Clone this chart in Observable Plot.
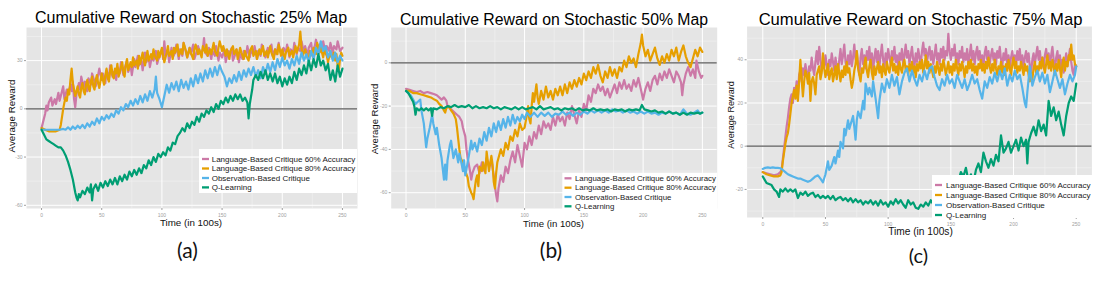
<!DOCTYPE html>
<html><head><meta charset="utf-8">
<script src="https://cdn.jsdelivr.net/npm/d3@7"></script>
<script src="https://cdn.jsdelivr.net/npm/@observablehq/plot@0.6"></script>
<style>
body{margin:0;background:#fff;}
#root{position:relative;width:1102px;height:284px;overflow:hidden;background:#fff;}
#root svg{position:absolute;}
</style></head>
<body><div id="root"></div>
<script>
// ---------- shared ----------
const seriesNames = ["Language-Based Critique 60% Accuracy","Language-Based Critique 80% Accuracy","Observation-Based Critique","Q-Learning"];
const seriesColors = ["#CC79A7","#E69F00","#56B4E9","#009E73"];
const xTicks = [0,50,100,150,200,250];
const xMinor = [25,75,125,175,225];
const titles = ["Cumulative Reward on Stochastic 25% Map","Cumulative Reward on Stochastic 50% Map","Cumulative Reward on Stochastic 75% Map"];
const captions = ["(a)","(b)","(c)"];
const yLabel = "Average Reward";
const xLabel = "Time (in 100s)";
const yTicksA = [-60,-30,0,30];
const yMinorA = [-45,-15,15,45];
const yTicksB = [-60,-40,-20,0];
const yMinorB = [-50,-30,-10,10];
const yTicksC = [-20,0,20,40];
const yMinorC = [-30,-10,10,30,50];

// ---------- panel (a): 25% ----------
const a_lang60 = [[0,-12],[2,-6],[3,-3],[4,2],[5,-1],[6,4],[8,7],[9,2],[11,6],[12,3],[14,10],[15,5],[16,8],[18,14],[19,6],[21,12],[22,9],[24,15],[25,11],[26,17],[27,6],[28,1],[29,9],[31,16],[32,12],[33,20],[35,13],[36,17],[38,11],[39,19],[41,15],[42,22],[44,17],[45,14],[47,21],[48,25],[50,18],[51,22],[53,16],[54,24],[56,19],[57,27],[59,20],[60,23],[62,18],[63,26],[65,22],[66,29],[68,21],[69,25],[71,30],[72,23],[74,27],[75,21],[77,31],[78,26],[80,33],[81,27],[83,30],[84,24],[86,35],[87,29],[89,32],[90,26],[92,34],[93,30],[95,36],[96,28],[98,33],[100,37],[101,31],[102,42],[103,33],[105,36],[106,29],[108,38],[109,32],[111,35],[112,40],[114,31],[115,37],[117,33],[118,41],[120,35],[121,32],[123,38],[124,34],[126,40],[127,31],[129,36],[130,39],[132,34],[134,37],[135,44],[136,35],[138,33],[139,38],[141,31],[142,36],[144,33],[145,39],[147,30],[148,35],[150,32],[152,37],[153,29],[155,36],[156,33],[158,38],[159,30],[161,34],[162,37],[164,29],[165,34],[167,31],[168,36],[170,33],[171,39],[173,32],[174,36],[176,34],[177,39],[179,31],[180,36],[182,33],[183,40],[185,35],[186,32],[188,38],[189,35],[191,40],[192,33],[194,37],[195,34],[197,41],[198,36],[200,33],[201,38],[203,35],[204,40],[206,32],[207,37],[209,35],[210,41],[212,34],[213,38],[215,36],[216,42],[218,35],[219,39],[221,33],[222,38],[224,41],[225,35],[227,39],[228,43],[230,36],[231,40],[233,38],[234,42],[236,34],[237,39],[239,36],[240,41],[242,35],[243,39],[245,37],[246,42],[248,36],[250,38]];
const a_lang80 = [[0,-12],[3,-13],[6,-14],[9,-14],[12,-14],[15,-13],[16,-10],[17,-5],[18,0],[19,4],[20,7],[21,5],[22,12],[23,9],[24,18],[25,25],[26,16],[27,12],[28,8],[29,11],[30,14],[31,9],[32,7],[33,13],[34,16],[35,11],[36,9],[37,15],[38,18],[39,13],[40,11],[41,17],[42,20],[43,14],[44,12],[45,18],[46,21],[47,16],[48,13],[50,22],[51,18],[52,15],[53,21],[54,25],[55,19],[56,17],[57,24],[58,27],[59,21],[60,19],[61,25],[62,22],[63,28],[64,20],[66,26],[67,29],[68,23],[69,20],[70,27],[71,31],[72,24],[74,29],[75,26],[76,32],[77,27],[79,30],[80,25],[81,33],[82,28],[84,35],[85,30],[86,27],[87,32],[88,36],[89,30],[91,34],[92,31],[93,37],[94,33],[96,30],[97,36],[98,32],[100,38],[101,33],[102,29],[104,35],[105,39],[106,33],[108,36],[109,31],[110,38],[111,35],[113,40],[114,33],[116,37],[117,34],[118,41],[120,36],[121,32],[123,38],[124,35],[126,31],[127,37],[128,40],[130,34],[131,37],[133,32],[134,39],[136,35],[137,40],[138,33],[140,37],[141,34],[143,41],[144,36],[146,33],[147,38],[148,42],[150,36],[151,39],[153,33],[154,37],[156,31],[157,36],[159,39],[160,34],[162,37],[163,31],[165,38],[166,35],[168,31],[169,36],[170,33],[172,30],[173,36],[175,39],[176,33],[178,36],[179,31],[181,37],[182,34],[184,39],[185,33],[187,36],[188,32],[190,39],[191,35],[193,31],[194,37],[196,34],[197,40],[199,33],[200,37],[202,31],[203,35],[205,38],[206,33],[208,36],[209,32],[211,39],[212,35],[214,40],[215,48],[216,38],[217,33],[219,37],[220,34],[222,30],[223,36],[225,33],[226,38],[228,34],[229,41],[231,35],[232,38],[234,32],[235,37],[237,33],[238,29],[240,36],[241,32],[243,35],[244,30],[245,34],[246,27],[247,24],[248,31],[249,35],[250,33]];
const a_obs = [[0,-13],[3,-13],[6,-13],[9,-13],[12,-13],[15,-13],[18,-12.5],[20,-13],[22,-11.5],[24,-13],[26,-11],[28,-12.5],[30,-10.5],[32,-12],[34,-10],[36,-12],[38,-9],[40,-11],[42,-8],[44,-10],[46,-6],[48,-9],[50,-5],[52,-7],[54,-4],[56,-6],[58,-3],[60,-5],[62,-1],[64,-3],[66,1],[68,-1],[70,3],[72,1],[74,5],[76,2],[78,6],[80,3],[82,8],[84,4],[86,9],[88,5],[90,11],[92,7],[94,12],[95,20],[96,10],[98,6],[100,1],[102,8],[104,15],[106,10],[108,16],[110,12],[112,17],[114,11],[116,18],[118,13],[120,17],[122,12],[124,19],[126,14],[128,21],[130,16],[132,22],[134,17],[136,24],[138,19],[140,25],[142,20],[144,26],[146,21],[148,27],[150,23],[152,20],[154,14],[156,19],[158,16],[160,21],[162,17],[164,23],[166,18],[168,24],[170,20],[172,25],[174,21],[176,26],[178,20],[180,24],[182,19],[184,26],[186,22],[188,28],[190,23],[192,29],[194,24],[196,31],[198,26],[200,32],[202,27],[204,30],[206,25],[208,31],[210,27],[212,33],[214,28],[216,35],[218,30],[220,34],[222,29],[224,36],[226,31],[228,38],[230,34],[232,42],[234,36],[236,39],[238,32],[240,36],[242,30],[244,35],[246,29],[248,33],[250,30]];
const a_q = [[0,-13],[2,-16],[4,-19],[6,-20],[8,-21],[10,-22],[12,-23],[14,-24],[16,-24],[18,-26],[20,-29],[22,-33],[24,-38],[26,-44],[27,-48],[28,-52],[29,-55],[30,-57],[31,-53],[32,-55],[34,-51],[36,-53],[38,-49],[40,-52],[41,-47],[42,-57],[43,-50],[45,-47],[47,-51],[49,-46],[51,-49],[53,-45],[55,-48],[57,-44],[59,-47],[61,-43],[63,-47],[65,-42],[67,-45],[69,-41],[71,-44],[73,-39],[75,-42],[77,-38],[79,-41],[81,-37],[83,-40],[85,-35],[87,-37],[89,-32],[91,-35],[93,-30],[95,-33],[97,-28],[99,-30],[101,-27],[103,-29],[105,-24],[107,-26],[109,-21],[111,-22],[113,-17],[115,-15],[117,-12],[119,-14],[121,-9],[123,-12],[125,-8],[127,-10],[129,-5],[131,-8],[133,-3],[135,-5],[137,-1],[139,-3],[141,1],[143,-2],[145,3],[147,0],[149,5],[151,3],[153,7],[155,4],[157,8],[159,5],[161,9],[163,6],[165,9],[167,5],[169,7],[171,4],[172,-6],[173,3],[175,12],[176,18],[178,21],[180,18],[182,23],[184,19],[186,24],[188,18],[190,22],[192,17],[194,22],[196,16],[198,20],[200,14],[202,19],[204,15],[206,20],[208,16],[210,23],[212,18],[214,25],[216,21],[218,27],[220,22],[222,30],[224,24],[226,31],[228,26],[230,34],[232,27],[234,30],[236,24],[238,28],[240,18],[242,24],[244,17],[246,27],[248,20],[250,25]];

// ---------- panel (b): 50% ----------
const b_lang60 = [[0,-12],[3,-12.5],[6,-13],[9,-13.5],[12,-13],[15,-14],[18,-13.5],[21,-14],[24,-14.5],[26,-15],[28,-16],[30,-17],[32,-16],[34,-17.5],[35,-20],[37,-21],[39,-22],[41,-23],[43,-24],[45,-25],[47,-27],[48,-30],[50,-34],[51,-40],[52,-44],[54,-50],[55,-54],[56,-51],[58,-48],[60,-47],[62,-51],[64,-46],[66,-50],[68,-44],[70,-48],[72,-45],[74,-52],[75,-57],[76,-61],[77,-64],[78,-58],[80,-52],[82,-55],[84,-48],[86,-51],[88,-45],[90,-41],[92,-46],[94,-38],[96,-43],[98,-48],[100,-37],[102,-40],[104,-34],[106,-38],[108,-32],[110,-35],[112,-29],[114,-33],[116,-27],[118,-30],[120,-28],[122,-31],[124,-25],[126,-29],[128,-24],[130,-27],[132,-25],[134,-29],[136,-23],[138,-26],[140,-20],[142,-24],[144,-28],[146,-22],[148,-25],[150,-19],[152,-22],[154,-15],[156,-18],[158,-12],[160,-14],[162,-10],[164,-13],[166,-11],[168,-15],[170,-12],[172,-16],[174,-13],[176,-10],[178,-14],[180,-9],[182,-12],[184,-8],[186,-12],[188,-10],[190,-13],[192,-8],[194,-11],[196,-7],[198,-12],[200,-17],[202,-12],[204,-9],[206,-13],[208,-8],[210,-6],[212,-10],[214,-5],[216,-8],[218,-4],[220,-7],[222,-3],[224,-6],[226,-9],[228,-4],[230,-6],[232,-9],[233,-15],[234,-10],[236,-5],[238,-2],[240,-6],[242,-3],[244,-7],[245,1],[247,-4],[249,-7],[250,-6]];
const b_lang80 = [[0,-13],[3,-13],[6,-14],[9,-14],[12,-14.5],[15,-15],[18,-15.5],[21,-16],[24,-17],[26,-17.5],[28,-19],[30,-20],[32,-22],[33,-23],[34,-21],[36,-20],[38,-22],[40,-23.5],[42,-26],[43,-30],[44,-35],[45,-40],[46,-44],[48,-46],[50,-50],[52,-53],[53,-57],[55,-60],[56,-61],[57,-63],[58,-58],[59,-54],[60,-52],[61,-57],[62,-48],[64,-50],[65,-46],[67,-51],[68,-41],[70,-50],[72,-43],[73,-47],[74,-55],[75,-58],[76,-51],[77,-46],[78,-44],[80,-40],[82,-43],[84,-37],[86,-40],[88,-34],[90,-36],[92,-31],[94,-34],[96,-28],[98,-31],[100,-30],[102,-24],[103,-20],[104,-26],[105,-28],[106,-20],[107,-14],[108,-18],[110,-10],[111,-16],[112,-19],[114,-13],[116,-17],[118,-11],[120,-16],[122,-13],[124,-17],[126,-12],[128,-15],[130,-11],[132,-15],[134,-10],[136,-14],[138,-9],[140,-12],[142,-8],[144,-11],[146,-7],[148,-10],[150,-5],[152,-8],[154,-4],[156,-7],[158,-2],[160,-5],[162,-1],[164,-6],[166,-9],[168,-4],[170,-7],[172,-2],[174,-6],[176,-3],[178,-7],[180,-2],[182,-4],[184,1],[186,-2],[188,3],[190,0],[192,2],[194,-2],[196,4],[198,9],[199,13],[200,8],[202,3],[204,6],[206,1],[208,4],[210,7],[212,2],[214,-1],[216,3],[218,0],[220,4],[222,1],[224,6],[226,3],[228,7],[230,1],[232,5],[234,8],[236,3],[238,0],[240,-2],[242,2],[244,6],[246,3],[248,7],[250,5]];
const b_obs = [[0,-13],[2,-14],[4,-15],[6,-17],[8,-19],[10,-18],[12,-17],[13,-22],[15,-28],[17,-39],[18,-35],[20,-30],[22,-24],[23,-28],[25,-33],[26,-30],[28,-38],[30,-44],[31,-49],[32,-54],[33,-47],[34,-54],[35,-45],[37,-38],[38,-36],[40,-44],[42,-40],[44,-46],[45,-42],[47,-47],[48,-50],[49,-45],[50,-52],[52,-46],[53,-43],[55,-36],[56,-40],[58,-37],[60,-41],[62,-35],[64,-38],[66,-32],[68,-36],[70,-30],[72,-34],[74,-28],[76,-32],[78,-27],[80,-31],[82,-26],[84,-30],[86,-25],[88,-29],[90,-24],[92,-28],[94,-25],[96,-27],[98,-24],[100,-26],[102,-23],[105,-25],[108,-23],[111,-25],[114,-23],[117,-24.5],[120,-23],[123,-25],[126,-23.5],[129,-24],[132,-22.5],[135,-24],[138,-23],[141,-24.5],[144,-23],[147,-24],[150,-22.5],[153,-23.5],[156,-22],[159,-23],[162,-22],[165,-23],[168,-22],[171,-23],[174,-21.5],[177,-22.5],[180,-22],[183,-23],[186,-22],[189,-23],[192,-22.5],[195,-23.5],[198,-22.5],[201,-23.5],[204,-22.5],[207,-23.5],[210,-23],[213,-24],[216,-23],[219,-23.5],[222,-22.5],[225,-23.5],[228,-23],[231,-24],[234,-21.5],[237,-23.5],[240,-24],[243,-23],[246,-22],[248,-23.5],[250,-23]];
const b_q = [[0,-13],[2,-14],[4,-16],[6,-18],[7,-20],[8,-24],[9,-21],[11,-22],[13,-21],[15,-22],[17,-21],[19,-22],[21,-21],[22,-24.5],[23,-21],[26,-21.5],[29,-20.5],[32,-21],[35,-20],[38,-20.5],[41,-19.5],[44,-20.5],[47,-20],[50,-20.5],[53,-19.5],[56,-21],[59,-20],[62,-21],[65,-20.5],[68,-21],[71,-20],[74,-21],[77,-20.5],[80,-21.5],[83,-20.5],[86,-21],[89,-21.5],[92,-20.5],[95,-21.5],[98,-20.5],[101,-21.5],[104,-21],[107,-20.5],[110,-21.5],[113,-20],[116,-21.5],[119,-21],[122,-20.5],[125,-21.5],[128,-21],[131,-22],[134,-21],[137,-21.5],[140,-21],[143,-22],[146,-21],[149,-22],[152,-21.5],[155,-22],[158,-21],[161,-22],[164,-21.5],[167,-22],[170,-21.5],[173,-22.5],[176,-21.5],[179,-22],[182,-21.5],[185,-22.5],[188,-21.5],[191,-22],[194,-21.5],[197,-22],[199,-19.5],[201,-21.5],[204,-22],[207,-22.5],[210,-22],[213,-23],[216,-22.5],[219,-23.5],[222,-22.5],[225,-23.5],[228,-23],[231,-24],[234,-23],[237,-24],[240,-23],[243,-23.5],[246,-23],[248,-23.5],[250,-23]];

// ---------- panel (c): 75% ----------
const c_lang60 = [[0,-12],[3,-12.5],[6,-13],[9,-13.5],[12,-13],[14,-12],[15,-11],[16,-6],[17,-1],[18,4],[19,9],[20,13],[21,18],[22,22],[23,24],[24,20],[25,27],[26,24],[27,30],[28,23],[29,33],[30,35],[31,30],[32,36],[33,33],[34,38],[35,34],[36,31],[37,37],[38,35],[39,41],[40,36],[41,33],[42,39],[43,44],[44,38],[45,46],[46,40],[47,35],[48,39],[49,36],[50,42],[51,38],[52,33],[53,40],[54,37],[55,43],[56,39],[57,35],[58,41],[59,37],[60,34],[61,40],[62,45],[63,38],[64,42],[65,47],[66,39],[67,36],[68,42],[69,38],[70,44],[71,37],[72,41],[73,47],[74,40],[75,44],[76,38],[77,33],[78,41],[79,45],[80,38],[81,42],[82,36],[83,44],[84,40],[85,46],[86,38],[87,43],[88,35],[89,41],[90,45],[91,39],[92,44],[93,37],[94,42],[95,47],[96,40],[97,36],[98,43],[99,39],[100,45],[101,41],[102,38],[103,44],[104,40],[105,46],[106,39],[107,42],[108,37],[109,43],[110,40],[111,45],[112,38],[113,42],[114,47],[115,41],[116,44],[117,38],[118,42],[119,46],[120,40],[121,37],[122,43],[123,39],[124,45],[125,41],[126,38],[127,44],[128,48],[129,42],[130,45],[131,39],[132,43],[133,46],[134,40],[135,44],[136,38],[137,42],[138,47],[139,40],[140,43],[141,38],[142,45],[143,41],[144,46],[145,40],[146,44],[147,42],[148,52],[149,44],[150,40],[151,45],[152,42],[153,47],[154,40],[155,43],[156,38],[157,44],[158,41],[159,46],[160,39],[161,43],[162,40],[163,45],[164,38],[165,42],[166,47],[167,40],[168,44],[169,38],[170,43],[171,46],[172,40],[173,44],[174,39],[175,42],[176,37],[177,43],[178,46],[179,40],[180,44],[181,38],[182,42],[183,45],[184,40],[185,43],[186,38],[187,44],[188,41],[189,46],[190,40],[191,37],[192,43],[193,40],[194,45],[195,38],[196,42],[197,36],[198,41],[199,44],[200,39],[201,42],[202,37],[203,44],[204,40],[205,45],[206,38],[207,42],[208,36],[209,41],[210,44],[211,39],[212,43],[213,37],[214,34],[215,40],[216,43],[217,38],[218,42],[219,46],[220,40],[221,44],[222,38],[223,41],[224,36],[225,42],[226,45],[227,39],[228,43],[229,37],[230,42],[231,46],[232,40],[233,35],[234,41],[235,44],[236,38],[237,42],[238,36],[239,40],[240,34],[241,39],[242,43],[243,37],[244,41],[245,45],[246,39],[247,35],[248,33],[249,38],[250,37]];
const c_lang80 = [[0,-12],[3,-13],[6,-13.5],[9,-14],[12,-14],[14,-13.5],[15,-12],[16,-7],[17,-3],[18,1],[19,4],[20,6],[21,10],[22,15],[23,20],[24,23],[25,26],[26,22],[27,28],[28,21],[29,30],[30,40],[31,31],[32,23],[33,30],[34,35],[35,33],[36,29],[37,34],[38,21],[39,30],[40,32],[41,29],[42,24],[43,33],[44,35],[45,37],[46,31],[47,34],[48,43],[49,36],[50,32],[51,35],[52,38],[53,31],[54,34],[55,36],[56,30],[57,33],[58,37],[59,31],[60,38],[61,34],[62,30],[63,35],[64,32],[65,37],[66,33],[67,39],[68,34],[69,36],[70,31],[71,27],[72,30],[73,35],[74,38],[75,44],[76,36],[77,33],[78,30],[79,36],[80,34],[81,38],[82,41],[83,35],[84,32],[85,37],[86,40],[87,34],[88,31],[89,37],[90,33],[91,36],[92,39],[93,34],[94,37],[95,32],[96,38],[97,35],[98,33],[99,39],[100,36],[101,34],[102,38],[103,41],[104,35],[105,38],[106,34],[107,37],[108,33],[109,39],[110,36],[111,34],[112,38],[113,40],[114,35],[115,37],[116,33],[117,38],[118,35],[119,39],[120,34],[121,37],[122,32],[123,38],[124,35],[125,39],[126,36],[127,40],[128,34],[129,37],[130,42],[131,36],[132,39],[133,34],[134,38],[135,35],[136,32],[137,37],[138,34],[139,39],[140,36],[141,33],[142,38],[143,35],[144,40],[145,37],[146,33],[147,36],[148,39],[149,34],[150,37],[151,33],[152,38],[153,35],[154,40],[155,36],[156,33],[157,38],[158,35],[159,39],[160,36],[161,32],[162,37],[163,34],[164,39],[165,36],[166,40],[167,35],[168,38],[169,34],[170,37],[171,33],[172,38],[173,36],[174,40],[175,35],[176,38],[177,34],[178,39],[179,36],[180,41],[181,37],[182,34],[183,38],[184,35],[185,40],[186,36],[187,33],[188,37],[189,35],[190,39],[191,34],[192,37],[193,33],[194,38],[195,35],[196,40],[197,36],[198,33],[199,38],[200,41],[201,36],[202,39],[203,34],[204,37],[205,35],[206,39],[207,36],[208,33],[209,38],[210,35],[211,37],[212,33],[213,30],[214,34],[215,31],[216,36],[217,39],[218,34],[219,37],[220,35],[221,39],[222,36],[223,41],[224,37],[225,34],[226,38],[227,42],[228,36],[229,39],[230,35],[231,40],[232,37],[233,33],[234,38],[235,35],[236,40],[237,36],[238,32],[239,38],[240,41],[241,35],[242,39],[243,37],[244,42],[245,40],[246,47],[247,40],[248,42],[249,38],[250,37]];
const c_obs = [[0,-10.5],[2,-10],[4,-9.8],[6,-10],[8,-9.8],[10,-10],[12,-10],[14,-10.2],[16,-11],[18,-12],[20,-13],[22,-13.5],[24,-14],[26,-14.5],[28,-15],[30,-15],[32,-15.5],[34,-16],[36,-16.5],[38,-16],[40,-15],[42,-14],[44,-13.5],[46,-15],[48,-16.7],[50,-13],[52,-7],[53,-11],[55,-9],[57,-5],[58,-8],[60,-2],[61,-5],[62,2],[64,-1],[65,8],[66,5],[68,12],[69,8],[70,10],[72,14],[73,9],[74,3],[75,12],[76,16],[78,13],[80,21],[81,17],[82,29],[84,24],[85,27],[87,23],[88,30],[90,22],[92,13],[93,21],[95,29],[97,25],[99,31],[101,27],[103,33],[105,28],[107,32],[109,24],[111,30],[113,34],[115,36],[117,30],[119,35],[121,31],[123,28],[125,33],[127,30],[129,35],[131,31],[133,36],[135,37],[137,32],[139,28],[141,26],[143,31],[145,28],[147,33],[149,29],[151,31],[153,27],[155,33],[157,30],[159,27],[161,31],[163,26],[165,29],[167,33],[169,29],[171,31],[173,26],[175,22],[177,30],[179,27],[181,32],[183,29],[185,34],[187,30],[189,35],[191,31],[193,36],[195,28],[197,33],[199,30],[201,35],[203,31],[205,33],[207,27],[209,20],[210,18],[211,25],[213,37],[215,28],[217,32],[219,35],[221,30],[223,34],[225,29],[227,33],[229,25],[231,30],[233,35],[235,31],[237,27],[239,31],[241,24],[243,29],[245,33],[247,30],[249,33],[250,37]];
const c_q = [[0,-14],[1,-15],[3,-17],[5,-17.5],[7,-18],[9,-20],[11,-21],[13,-23.5],[14,-20],[16,-21],[18,-19.5],[20,-21],[22,-20],[24,-21],[26,-20],[28,-24],[30,-21.5],[32,-22.5],[34,-21],[36,-23],[38,-22],[40,-21.5],[42,-23.5],[44,-22.5],[46,-24],[48,-23],[50,-24],[52,-23],[54,-24.5],[56,-23],[58,-25],[60,-24],[62,-23.5],[64,-25],[66,-24],[68,-25.5],[70,-24],[72,-26],[74,-24.5],[76,-26],[78,-25],[80,-27],[82,-25.5],[84,-26.5],[86,-25],[88,-27],[90,-25.5],[92,-27.5],[94,-25],[96,-27],[98,-26],[100,-28],[102,-25.5],[104,-27],[106,-24.5],[108,-26.5],[110,-25],[112,-27],[114,-28.5],[116,-25],[118,-27],[120,-26],[122,-28.5],[124,-29],[126,-27],[128,-28],[130,-26],[132,-27.5],[134,-25],[136,-27],[140,-24],[145,-26],[150,-22],[155,-18],[158,-12],[160,-14],[162,-10],[164,-16],[166,-13],[168,-17],[170,-11],[172,-8],[174,-12],[176,-3],[178,-7],[180,-10],[182,-6],[184,-9],[186,-4],[188,-7],[190,5],[192,-3],[194,-1],[196,2],[198,-3],[200,0],[202,3],[204,-2],[206,4],[208,0],[210,3],[211,-8],[212,2],[214,6],[216,9],[218,5],[220,12],[222,7],[224,10],[226,5],[228,21],[230,14],[232,18],[234,12],[236,16],[238,10],[240,5],[242,14],[244,20],[246,23],[248,21],[250,29]];

// ---------- layout ----------
const FONT = "'Liberation Sans', Arial, Helvetica, sans-serif";
const panels = [
  {series:[a_lang60,a_lang80,a_obs,a_q], yTicks:yTicksA, yMinor:yMinorA, yDomain:[-62,50.6],
   left:0, width:370, height:230, ml:26, mr:13, mt:27, mb:22,
   title:{x:191, y:23.3, size:16}, ylab:{x:14.6, y:116, size:9.8}, xlab:{x:191, y:226, size:9.8},
   legend:{x:199, y:149, w:158, h:44, rows:[159,168.5,178,187.4], keyX:202, textX:211.7, size:8},
   cap:{x:187.5, y:258, size:21}},
  {series:[b_lang60,b_lang80,b_obs,b_q], yTicks:yTicksB, yMinor:yMinorB, yDomain:[-67.3,16.3],
   left:360, width:370, height:230, ml:30.7, mr:13.3, mt:27, mb:22,
   title:{x:554, y:25.3, size:15.8}, ylab:{x:378.4, y:119, size:9.5}, xlab:{x:553.5, y:226.5, size:9.6},
   legend:{x:562.3, y:172.7, w:155, h:38, rows:[178.3,187.7,197,206.3], keyX:564.5, textX:575, size:7.85},
   cap:{x:551, y:258, size:21}},
  {series:[c_lang60,c_lang80,c_obs,c_q], yTicks:yTicksC, yMinor:yMinorC, yDomain:[-33,55.4],
   left:730, width:372, height:240, ml:16.6, mr:10.6, mt:26, mb:23,
   title:{x:920.5, y:24.5, size:16.6}, ylab:{x:734.3, y:115, size:9.1}, xlab:{x:920.5, y:235, size:10.2},
   legend:{x:932, y:175, w:161, h:43, rows:[185,195,205,215], keyX:935, textX:946, size:8.05},
   cap:{x:918.5, y:263, size:20}}
];

const root = document.getElementById("root");

panels.forEach(p => {
  const rows = [];
  p.series.forEach((arr, i) => arr.forEach(([t, v]) => rows.push({t, v, s: seriesNames[i]})));
  const svg = Plot.plot({
    width: p.width, height: p.height,
    marginLeft: p.ml, marginRight: p.mr, marginTop: p.mt, marginBottom: p.mb,
    x: {domain: [-12.5, 262.5]},
    y: {domain: p.yDomain},
    color: {domain: seriesNames, range: seriesColors},
    style: {background: "transparent", fontFamily: FONT, overflow: "visible"},
    marks: [
      Plot.frame({fill: "#e5e5e5", stroke: "none"}),
      Plot.ruleX(xMinor, {stroke: "#f2f2f2", strokeWidth: 0.6}),
      Plot.ruleY(p.yMinor.filter(d => d > p.yDomain[0] && d < p.yDomain[1]), {stroke: "#f2f2f2", strokeWidth: 0.6}),
      Plot.ruleX(xTicks, {stroke: "#ffffff", strokeWidth: 1}),
      Plot.ruleY(p.yTicks, {stroke: "#ffffff", strokeWidth: 1}),
      Plot.ruleY([0], {stroke: "#5a5a5a", strokeWidth: 1.2}),
      Plot.line(rows, {x: "t", y: "v", z: "s", stroke: "s", strokeWidth: 2.2, strokeLinejoin: "round", curve: "linear"}),
      Plot.axisX({ticks: xTicks, tickSize: 2, tickPadding: 3, fontSize: 5, color: "#a0a0a0", label: null, tickFormat: d => String(d)}),
      Plot.axisY({ticks: p.yTicks, tickSize: 2, tickPadding: 2, fontSize: 5, color: "#a0a0a0", label: null, tickFormat: d => String(d)})
    ]
  });
  svg.style.left = p.left + "px";
  svg.style.top = "0px";
  root.appendChild(svg);
});

// overlay for titles, axis titles, legends and captions
const ov = d3.select(root).append("svg")
  .attr("width", 1102).attr("height", 284)
  .style("left", "0px").style("top", "0px")
  .style("font-family", FONT);

panels.forEach((p, k) => {
  ov.append("text").attr("x", p.title.x).attr("y", p.title.y).attr("text-anchor", "middle")
    .attr("font-size", p.title.size).attr("fill", "#000").text(titles[k]);
  ov.append("text").attr("transform", `translate(${p.ylab.x},${p.ylab.y}) rotate(-90)`).attr("text-anchor", "middle")
    .attr("font-size", p.ylab.size).attr("fill", "#111").text(yLabel);
  ov.append("text").attr("x", p.xlab.x).attr("y", p.xlab.y).attr("text-anchor", "middle")
    .attr("font-size", p.xlab.size).attr("fill", "#111").text(xLabel);
  const L = p.legend;
  ov.append("rect").attr("x", L.x).attr("y", L.y).attr("width", L.w).attr("height", L.h).attr("fill", "#fff");
  seriesNames.forEach((name, i) => {
    ov.append("line").attr("x1", L.keyX).attr("x2", L.keyX + 7).attr("y1", L.rows[i]).attr("y2", L.rows[i])
      .attr("stroke", seriesColors[i]).attr("stroke-width", 2.3);
    ov.append("text").attr("x", L.textX).attr("y", L.rows[i]).attr("dy", "0.35em")
      .attr("font-size", L.size).attr("fill", "#1a1a1a").text(name);
  });
  ov.append("text").attr("x", p.cap.x).attr("y", p.cap.y).attr("text-anchor", "middle")
    .attr("font-size", p.cap.size).attr("fill", "#111").style("font-family", "Lato, 'Open Sans', sans-serif").text(captions[k]);
});
</script>
</body></html>
